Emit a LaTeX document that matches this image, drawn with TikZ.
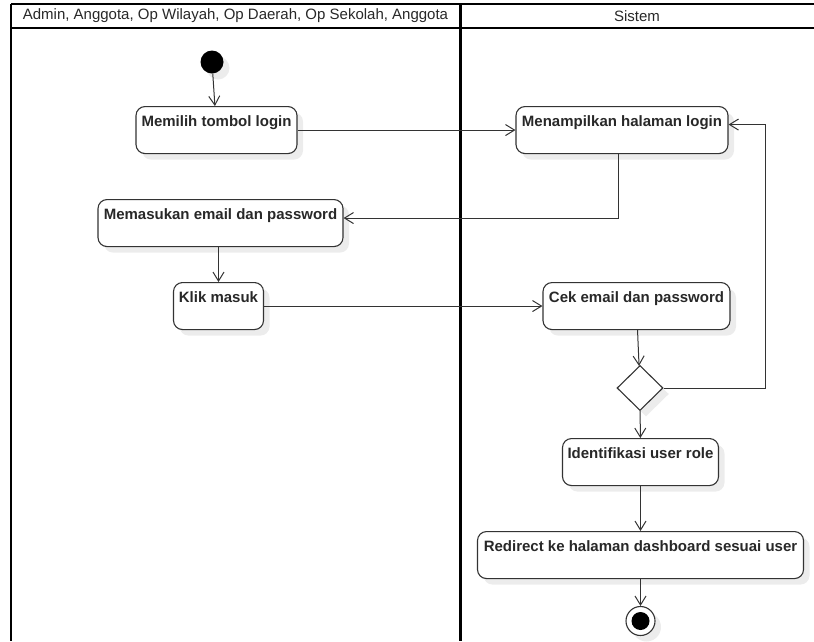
\documentclass[tikz,border=0pt]{standalone}
\usepackage{fontspec}
\setmainfont{Liberation Sans}
\newfontfamily\headfont{Liberation Sans}
\usepackage{xcolor}
\usepackage{tikz}
\usetikzlibrary{shapes.geometric, arrows.meta, positioning, shadows}
\definecolor{lineclr}{RGB}{51, 51, 51}
\definecolor{textclr}{RGB}{40, 40, 40}
\definecolor{shadeclr}{RGB}{236, 236, 236}

\begin{document}
\begin{tikzpicture}[
    x=1pt, y=-1pt,
    every node/.style={text=textclr},
    lane/.style={draw=black, line width=2pt},
    divider/.style={draw=black, line width=3pt},
    head/.style={font=\headfont\fontsize{15}{17}\selectfont, inner sep=0pt},
    shade/.style={drop shadow={shadow xshift=6pt, shadow yshift=-6pt, fill=shadeclr, opacity=1}},
    action/.style={rectangle, draw=lineclr, line width=1.1pt, rounded corners=9pt, fill=white, shade,
        inner sep=0pt, text height=20pt, text depth=27pt, align=center,
        font=\fontsize{15}{18}\selectfont\bfseries},
    decision/.style={diamond, draw=lineclr, line width=1.1pt, fill=white, shade,
        minimum width=46pt, minimum height=45pt, inner sep=0pt},
    initial/.style={circle, fill=black, minimum size=23pt, inner sep=0pt, shade},
    final/.style={circle, draw=lineclr, line width=1.1pt, fill=white, minimum size=29pt, inner sep=0pt, shade,
        path picture={\fill[black] (path picture bounding box.center) circle[radius=9pt];}},
    arr/.style={-{Straight Barb[length=9pt, width=11pt]}, draw=lineclr, line width=1pt},
]
\useasboundingbox (0,0) rectangle (814,641);

% ── Swimlanes ──
\draw[lane] (11,4) -- (814,4);
\draw[lane] (11,28) -- (814,28);
\draw[lane] (11,4) -- (11,641);
\draw[divider] (460,4) -- (460,641);
\node[head] (actorhead) at (235.5,16) {Admin, Anggota, Op Wilayah, Op Daerah, Op Sekolah, Anggota};
\node[head] (syshead) at (637,16) {Sistem};

% ── User lane ──
\node[initial] (start) at (212,62) {};
\node[action, minimum width=161pt] (pilih) at (216.5,106) [anchor=north] {Memilih tombol login};
\node[action, minimum width=245pt] (email) at (220.5,199) [anchor=north] {Memasukan email dan password};
\node[action, minimum width=90pt] (klik) at (218.5,282) [anchor=north] {Klik masuk};

% ── System lane ──
\node[action, minimum width=212pt] (tampil) at (622,106) [anchor=north] {Menampilkan halaman login};
\node[action, minimum width=187pt] (cek) at (636.5,282) [anchor=north] {Cek email dan password};
\node[decision] (cond) at (640,388) {};
\node[action, minimum width=156pt] (ident) at (640.5,438) [anchor=north] {Identifikasi user role};
\node[action, minimum width=326pt] (redirect) at (640.5,531) [anchor=north] {Redirect ke halaman dashboard sesuai user};
\node[final] (finish) at (640.5,621) {};

% ── Arrows ──
\draw[arr] (start) -- (pilih);
\draw[arr] (pilih) -- (tampil);
\draw[arr] ([xshift=-4pt]tampil.south) |- ([yshift=5pt]email.east);
\draw[arr] (email.south -| klik.north) -- (klik.north);
\draw[arr] (klik) -- (cek);
\draw[arr] (cek) -- (cond);
\draw[arr] (cond.east) -- ++(102,0) |- ([yshift=5.5pt]tampil.east);
\draw[arr] (cond) -- (ident);
\draw[arr] (ident) -- (redirect);
\draw[arr] (redirect) -- (finish);

\end{tikzpicture}
\end{document}
